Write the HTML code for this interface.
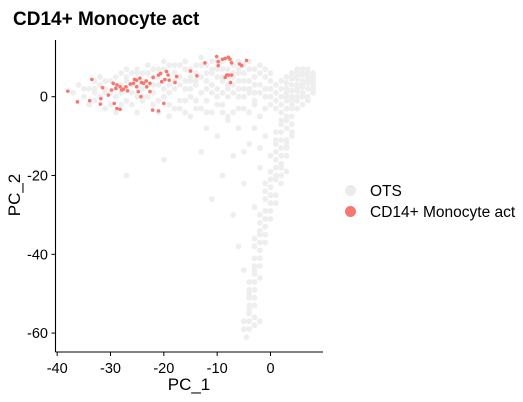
<!DOCTYPE html>
<html><head><meta charset="utf-8"><style>
body{margin:0;background:#fff;}
svg{display:block;font-family:"Liberation Sans",sans-serif;}
</style></head><body>
<svg id="chart" width="523" height="402">
<text x="13" y="25" font-size="19" font-weight="bold" fill="#000">CD14+ Monocyte act</text>
<g id="grey"></g>
<g id="red"></g>
<g id="axes"></g>
<text x="189" y="390" font-size="17" text-anchor="middle">PC_1</text>
<text transform="translate(20,195) rotate(-90)" font-size="17" text-anchor="middle">PC_2</text>
<g>
<circle cx="350.5" cy="190.5" r="5.5" fill="#ebebeb"/>
<text x="370" y="196" font-size="15.5">OTS</text>
<circle cx="350.5" cy="211.5" r="5.5" fill="#F8766D"/>
<text x="370" y="217" font-size="15.5">CD14+ Monocyte act</text>
</g>
</svg>
<script>
const xTicks=[-40,-30,-20,-10,0];
const yTicks=[0,-20,-40,-60];
const greyData="-35,0 -34,2 -33,-1 -32,3 -31,-3 -30,4 -29,0 -28,-2 -27,5 -26,1 -25,-4 -24,6 -23,0 -22,-2 -21,3 -20,7 -19,-5 -18,2 -17,5 -16,-1 -15,7 -14,3 -13,-3 -12,8 -11,1 -10,5 -9,-2 -8,7 -7,3 -6,0 -5,8 -4,4 -3,-1 -2,6 -1,2 0,4 -34,-2 -32,0 -30,1 -28,3 -26,-2 -24,2 -22,5 -20,0 -18,-3 -16,4 -14,6 -12,-1 -10,2 -8,0 -6,6 -4,1 -2,3 -1,-3 -33,4 -31,1 -29,-4 -27,2 -25,3 -23,6 -21,-1 -19,1 -17,8 -15,0 -13,5 -11,9 -9,4 -7,-4 -5,2 -3,7 -2,-5 0,0 -36,3 -29,5 -27,-1 -25,0 -23,3 -21,7 -19,8 -17,-1 -16,7 -14,-1 -13,8 -11,-4 -10,9 -9,7 -8,3 -6,9 -5,-3 -4,7 -3,3 -1,7 0,-2 -7,8 -12,4 -15,4 -18,6 -20,4 -22,7 -24,-1 -26,6 -28,6 -30,-2 -32,5 "+
"-37,1 -35,2 -33,1 -31,4 -29,2 -27,4 -25,6 -24,4 -22,3 -21,5 -20,2 -19,3 -18,4 -17,3 -16,2 -15,5 -15,2 -14,8 -14,4 -13,1 -12,6 -12,2 -11,6 -11,3 -10,7 -10,0 -9,9 -9,1 -8,5 -8,2 -7,6 -7,1 -6,4 -6,2 -5,6 -5,4 -5,0 -4,9 -4,2 -3,5 -3,1 -2,8 -2,1 -1,5 -1,0 0,6 0,2 1,3 1,-1 -16,9 -18,8 -20,9 -13,10 -11,7 -9,5 -7,5 -6,7 -23,8 -25,7 -27,7 -29,3 -31,2 -33,2 -22,1 -24,0 -26,3 -28,1 -19,-2 -17,-3 -14,-3 -12,-4 -10,-2 -9,-4 -6,-3 -4,-4 -3,-2 -8,-6 -16,-4 -21,-4 "+
"2,4 3,2 4,6 5,0 6,4 7,2 8,5 3,-1 4,3 5,6 6,1 7,5 5,3 6,-2 4,0 7,-1 3,5 8,1 2,0 5,-3 6,7 4,-2 1,1 7,6 6,5.5 5,4.5 7,3.5 4,1.5 3,3.5 6,2.5 8,3 5,1.5 2,2 3,0 4,4.5 5,5 6,6 7,4 8,4 8,6 7,0 6,0 5,-1 4,-1 3,1 2,-2 3,-3 5,2 6,3 7,7 5,7 4,5 8,2 1,-3 2,-4 "+
"3,-5 4,-7 2,-9 3,-11 2,-13 3,-15 1,-16 2,-18 1,-20 2,-22 0,-23 1,-25 0,-27 -1,-29 0,-31 -1,-33 -2,-35 -1,-37 -2,-39 -3,-41 -2,-43 -3,-45 -4,-47 -3,-49 -4,-51 -3,-53 -4,-55 -5,-57 -4,-59 -4.5,-61 4,-10 3,-19 1,-21 -1,-26 -2,-30 -2,-34 -3,-38 -3,-44 -4,-50 -4,-54 -2,-57 1,-14 2,-6 4,-3 3,-8 2,-17 0,-21 -1,-24 3,-12 2,-15 4,-5 1,-11 3,-6 2,-7 4,-9 1,-9 3,-13 1,-12 2,-11 0,-15 1,-18 0,-19 2,-20 0,-25 -1,-22 1,-27 -1,-31 0,-29 -2,-32 -1,-35 -3,-36 -2,-37 -2,-41 -3,-43 -3,-47 -2,-46 -4,-49 -3,-51 -4,-53 -3,-56 -4,-57 -5,-59 -3,-58 "+
"-8,-5 -6,-8 -10,-10 -4,-12 -7,-15 -2,-18 -5,-22 -12,-8 -9,-20 -3,-28 -7,-30 -13,-14 -15,-5 -1,-10 -6,-38 -5,-44 -27,-20 -20,-16 -11,-26 -3,-8 -5,-14 -2,-13";
const redX=[-38.0,-36.2,-33.5,-33.9,-31.5,-31.8,-31.9,-30.4,-29.8,-29.5,-28.8,-28.2,-29.0,-27.6,-27.9,-26.8,-27.1,-26.3,-25.5,-25.7,-25.1,-24.5,-24.2,-23.8,-25.1,-24.8,-23.2,-23.3,-22.6,-22.0,-21.0,-20.6,-19.8,-19.2,-19.5,-19.0,-20.4,-17.9,-17.6,-22.6,-24.3,-29.3,-28.8,-28.2,-22.1,-21.0,-20.0,-15.0,-13.8,-12.3,-10.1,-9.8,-9.8,-9.0,-8.5,-7.9,-7.6,-7.3,-8.2,-8.5,-7.9,-7.3,-7.5,-5.8,-5.4,-4.5];
const redY=[1.4,-1.3,4.4,-1.0,2.3,-0.5,-1.9,0.4,1.7,3.4,3.0,2.5,2.1,1.9,1.7,1.5,2.5,3.2,4.4,3.4,4.2,4.7,3.6,3.4,2.5,1.3,2.5,4.0,3.4,4.9,5.5,5.9,4.4,5.5,6.4,4.2,3.8,3.6,5.1,1.3,0,-1.7,-3.0,-3.2,-3.4,-3.6,-1.7,6.5,5.3,8.6,10.2,8.9,7.9,9.5,9.7,10.0,9.5,8.6,5.5,4.9,5.5,5.5,3.6,8.3,7.9,9.2];
const NS="http://www.w3.org/2000/svg";
const sx=v=>270.5+5.333*v;
const sy=v=>96.7-3.94*v;
const gG=document.getElementById('grey');
greyData.split(' ').forEach(p=>{const [a,b]=p.split(',').map(Number);
 const c=document.createElementNS(NS,'circle');c.setAttribute('cx',sx(a));c.setAttribute('cy',sy(b));c.setAttribute('r',2.9);c.setAttribute('fill','#eeeeee');
 
 
 gG.appendChild(c);});
const gR=document.getElementById('red');
redX.forEach((a,i)=>{const c=document.createElementNS(NS,'circle');c.setAttribute('cx',sx(a));c.setAttribute('cy',sy(redY[i]));c.setAttribute('r',1.8);c.setAttribute('fill','#F8766D');
 
 
 gR.appendChild(c);});
const ax=document.getElementById('axes');
function el(t,at){const e=document.createElementNS(NS,t);for(const k in at)e.setAttribute(k,at[k]);ax.appendChild(e);return e;}
const xl=el('line',{x1:55.5,y1:352,x2:323,y2:352,stroke:'#000','stroke-width':1.1});


const yl=el('line',{x1:55.5,y1:40,x2:55.5,y2:352,stroke:'#000','stroke-width':1.1});


xTicks.forEach(v=>{el('line',{x1:sx(v),x2:sx(v),y1:352,y2:356,stroke:'#000'});
 const t=el('text',{x:sx(v),y:373,'font-size':14.5,'text-anchor':'middle'});t.textContent=v;
 
 });
yTicks.forEach(v=>{el('line',{x1:51.5,x2:55.5,y1:sy(v),y2:sy(v),stroke:'#000'});
 const t=el('text',{x:48,y:sy(v)+5,'font-size':14.5,'text-anchor':'end'});t.textContent=v;
 
 });
</script>
</body></html>
